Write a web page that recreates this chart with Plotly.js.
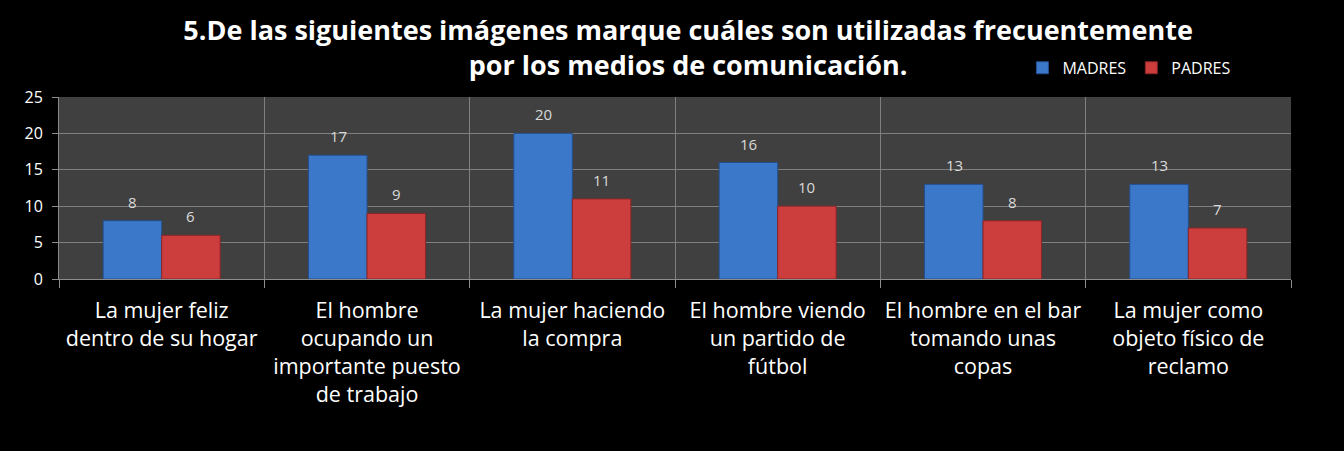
<!DOCTYPE html>
<html>
<head>
<meta charset="utf-8">
<script src="https://cdn.plot.ly/plotly-3.0.1.min.js"></script>
<style>html,body{margin:0;padding:0;background:#000;}#chart{width:1344px;height:451px;}</style>
</head>
<body>
<div id="chart"></div>
<script>
const categories = [
  "La mujer feliz<br>dentro de su hogar",
  "El hombre<br>ocupando un<br>importante puesto<br>de trabajo",
  "La mujer haciendo<br>la compra",
  "El hombre viendo<br>un partido de<br>fútbol",
  "El hombre en el bar<br>tomando unas<br>copas",
  "La mujer como<br>objeto físico de<br>reclamo"
];
const madres = [8, 17, 20, 16, 13, 13];
const padres = [6, 9, 11, 10, 8, 7];
const yTicks = [0, 5, 10, 15, 20, 25];

const FONT = "Open Sans, Noto Sans, sans-serif";

const traces = [
  {type: "bar", name: "MADRES", x: categories, y: madres,
   marker: {color: "#3b78c9", line: {color: "#24508f", width: 1}}},
  {type: "bar", name: "PADRES", x: categories, y: padres,
   marker: {color: "#cc3d3d", line: {color: "#8a2626", width: 1}}}
];

const annotations = [];
[[madres, -29], [padres, 29]].forEach(([vals, dx]) => {
  vals.forEach((v, i) => {
    annotations.push({x: categories[i], y: v, xref: "x", yref: "y",
      text: String(v), showarrow: false, yanchor: "bottom", yshift: 7, xshift: dx,
      font: {family: FONT, size: 15, color: "#d9d9d9"}});
  });
});

const layout = {
  width: 1344, height: 451,
  paper_bgcolor: "#000000", plot_bgcolor: "#404040",
  margin: {l: 59, r: 53, t: 97, b: 172},
  title: {text: "<b>5.De las siguientes imágenes marque cuáles son utilizadas frecuentemente<br>por los medios de comunicación.</b>",
    font: {family: FONT, size: 27, color: "#ffffff"}, x: 0.512, xanchor: "center",
    yref: "container", y: 0.912, yanchor: "middle"},
  barmode: "group", bargap: 0.43, bargroupgap: 0,
  showlegend: true,
  legend: {orientation: "h", x: 0.782, xanchor: "left", y: 1.16, yanchor: "middle",
    font: {family: FONT, size: 16, color: "#ffffff"}, bgcolor: "rgba(0,0,0,0)",
    itemwidth: 30, traceorder: "normal"},
  xaxis: {type: "category", tickson: "boundaries", ticks: "outside", ticklen: 8,
    tickcolor: "#8c8c8c", showgrid: true, gridcolor: "#7f7f7f", gridwidth: 1,
    showline: true, linecolor: "#8c8c8c", linewidth: 1, ticklabelstandoff: 12,
    tickangle: 0,
    tickfont: {family: FONT, size: 21.5, color: "#ffffff"}, automargin: false},
  yaxis: {range: [0, 25], tickvals: yTicks, ticks: "outside", ticklen: 6,
    tickcolor: "#8c8c8c", showgrid: true, gridcolor: "#7f7f7f", gridwidth: 1,
    showline: true, linecolor: "#8c8c8c", zeroline: false, ticklabelstandoff: 6,
    tickfont: {family: FONT, size: 16, color: "#ffffff"}, automargin: false},
  annotations: annotations
};

Plotly.newPlot("chart", traces, layout, {displayModeBar: false, staticPlot: true});
</script>
</body>
</html>
